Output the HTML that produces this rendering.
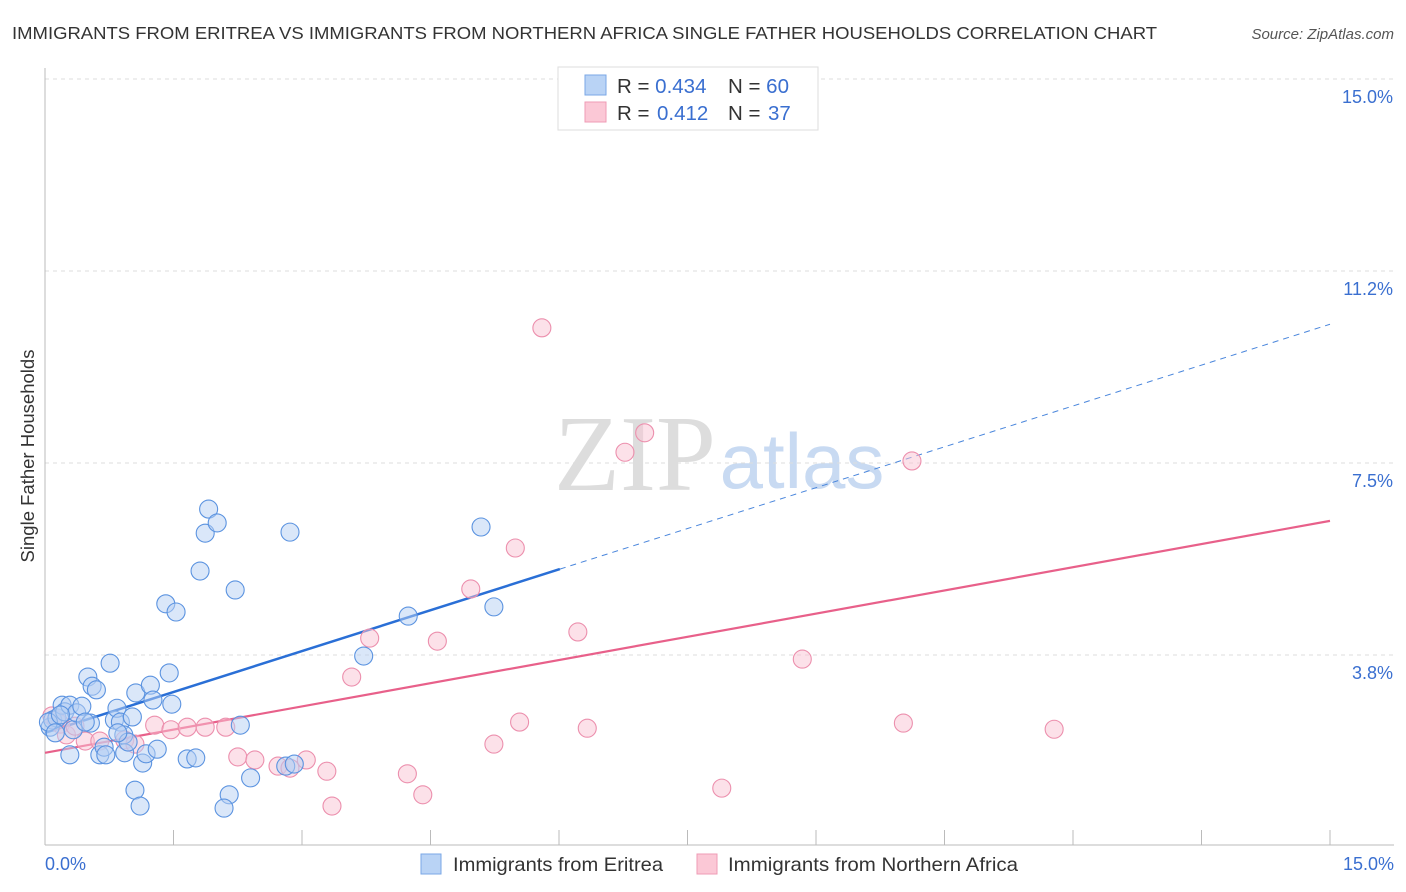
<!DOCTYPE html>
<html><head><meta charset="utf-8"><style>
body{margin:0;background:#fff;font-family:"Liberation Sans",sans-serif;}
svg{display:block}
</style></head><body>
<svg id="chart" width="1406" height="892" viewBox="0 0 1406 892" xmlns="http://www.w3.org/2000/svg" font-family="Liberation Sans, sans-serif">
<text x="12" y="39" font-size="17.5" fill="#333" textLength="1145" lengthAdjust="spacingAndGlyphs">IMMIGRANTS FROM ERITREA VS IMMIGRANTS FROM NORTHERN AFRICA SINGLE FATHER HOUSEHOLDS CORRELATION CHART</text>
<text x="1394" y="39" font-size="15" fill="#555" font-style="italic" text-anchor="end">Source: ZipAtlas.com</text>
<text transform="translate(34,456) rotate(-90)" font-size="18.5" fill="#333" text-anchor="middle">Single Father Households</text>
<g id="watermark">
<text x="635" y="490" font-size="108" fill="#ddd" font-family="Liberation Serif, serif" text-anchor="middle">ZIP</text>
<text x="802" y="488" font-size="78" fill="#c8daf2" text-anchor="middle">atlas</text>
</g>
<g id="grid"></g>
<g id="axes"></g>
<g id="lines"></g>
<g id="points"></g>
<g>
<rect x="558" y="67" width="260" height="63" fill="#fff" stroke="#ddd"/>
<rect x="585" y="75" width="21" height="20" fill="#b9d3f5" stroke="#7aa7e6"/>
<rect x="585" y="102" width="21" height="20" fill="#fbc8d6" stroke="#ef9bb5"/>
<text x="617" y="93" font-size="20.5" fill="#333">R = <tspan fill="#3a6fd0">0.434</tspan><tspan x="728">N = </tspan><tspan fill="#3a6fd0">60</tspan></text>
<text x="617" y="120" font-size="20.5" fill="#333">R = <tspan fill="#3a6fd0" x="657">0.412</tspan><tspan x="728">N = </tspan><tspan fill="#3a6fd0" x="768">37</tspan></text>
</g>
<g>
<rect x="421" y="854" width="20" height="20" fill="#b9d3f5" stroke="#7aa7e6"/>
<text x="453" y="871" font-size="19.5" fill="#333" textLength="210" lengthAdjust="spacingAndGlyphs">Immigrants from Eritrea</text>
<rect x="697" y="854" width="20" height="20" fill="#fbc8d6" stroke="#ef9bb5"/>
<text x="728" y="871" font-size="19.5" fill="#333" textLength="290" lengthAdjust="spacingAndGlyphs">Immigrants from Northern Africa</text>
</g>
</svg>
<script>
const yTicks=[3.75,7.5,11.25,15];
const yTickLabels=["3.8%","7.5%","11.2%","15.0%"];
const xTickLabels=["0.0%","15.0%"];
const eritreaX=[.06,.09,.14,.20,.23,.29,.33,.37,.43,.29,.50,.55,.60,.53,.64,.69,.71,.76,.81,.84,.88,.92,.93,.97,1.02,1.06,1.05,1.11,1.14,1.18,1.23,1.26,1.31,1.41,1.45,1.48,1.53,1.66,1.76,1.81,1.87,1.91,2.01,2.15,2.22,2.09,2.28,2.40,2.81,2.86,2.91,3.72,4.24,5.09,5.24,.04,.12,.18,.47,.85];
const eritreaY=[2.34,2.48,2.52,2.77,2.64,2.77,2.29,2.62,2.75,1.80,3.32,3.14,3.07,2.42,1.80,1.95,1.80,3.59,2.48,2.71,2.44,2.19,1.84,2.05,2.54,3.01,1.11,.80,1.64,1.82,3.16,2.87,1.91,4.75,3.40,2.79,4.59,1.72,1.74,5.39,6.13,6.60,6.33,1.02,5.02,.76,2.38,1.35,1.58,6.15,1.62,3.73,4.51,6.25,4.69,2.44,2.23,2.58,2.44,2.23];
const nafX=[.08,.13,.18,.25,.35,.47,.64,.93,1.05,1.28,1.47,1.66,1.87,2.11,2.25,2.45,2.72,2.86,3.05,3.29,3.35,3.58,3.79,4.23,4.41,4.58,4.97,5.24,5.49,5.54,5.80,6.22,6.33,6.77,7.00,7.90,8.84,10.02,10.12,11.78];
const nafY=[2.56,2.48,2.40,2.19,2.36,2.07,2.07,2.09,2.01,2.38,2.29,2.34,2.34,2.34,1.76,1.70,1.58,1.54,1.70,1.48,.80,3.32,4.08,1.43,1.02,4.02,5.04,2.01,5.84,2.44,10.14,4.20,2.32,7.71,8.09,1.15,3.67,2.42,7.54,2.30];
const eritreaTrend=[2.23,10.21];
const nafTrend=[1.84,6.37];
const eritreaSolidEnd=6.01;
const NS="http://www.w3.org/2000/svg";
const X=v=>45+v/15*1285;
const Y=v=>847-v/15*768;
function mk(t,a,p){const e=document.createElementNS(NS,t);for(const k in a)e.setAttribute(k,a[k]);p.appendChild(e);return e;}
const grid=document.getElementById('grid'),axes=document.getElementById('axes'),lines=document.getElementById('lines'),pts=document.getElementById('points');
yTicks.forEach((t,i)=>{
 const l=mk('line',{x1:45,x2:1394,y1:Y(t),y2:Y(t),stroke:'#ddd','stroke-dasharray':'4,4'},grid);
 
 
 const tx=mk('text',{x:1393,y:Y(t)+24,'font-size':18,fill:'#3a6fd0','text-anchor':'end'},axes);
 tx.textContent=yTickLabels[i];
 
 
});
const ax=mk('line',{x1:45,x2:1394,y1:845,y2:845,stroke:'#bbb'},axes);


const ay=mk('line',{x1:45,x2:45,y1:68,y2:845,stroke:'#bbb'},axes);


for(let i=0;i<=10;i++){const v=i*1.5;const tk=mk('line',{x1:X(v),x2:X(v),y1:830,y2:845,stroke:'#bbb'},axes);
 
 }
[[0,'start',45],[15,'end',1394]].forEach((d,i)=>{const t=mk('text',{x:d[2],y:870,'font-size':18,fill:'#3a6fd0','text-anchor':d[1]},axes);t.textContent=xTickLabels[i];
 
 });
function pointsFor(xs,ys,fill,stroke,name){xs.forEach((x,i)=>{const c=mk('circle',{cx:X(x),cy:Y(ys[i]),r:9,fill:fill,'fill-opacity':0.5,stroke:stroke,'stroke-width':1.1},pts);
 
 });}
pointsFor(nafX,nafY,'#f9c3d3','#ec8fad','northern-africa-point');
pointsFor(eritreaX,eritreaY,'#b5cff3','#5b93e0','eritrea-point');
const ty=x=>eritreaTrend[0]+(eritreaTrend[1]-eritreaTrend[0])*x/15;
const l1=mk('line',{x1:X(0),y1:Y(ty(0)),x2:X(eritreaSolidEnd),y2:Y(ty(eritreaSolidEnd)),stroke:'#2a6fd6','stroke-width':2.5},lines);


const l2=mk('line',{x1:X(eritreaSolidEnd),y1:Y(ty(eritreaSolidEnd)),x2:X(15),y2:Y(ty(15)),stroke:'#4a86dc','stroke-width':1,'stroke-dasharray':'6,5'},lines);


const l3=mk('line',{x1:X(0),y1:Y(nafTrend[0]),x2:X(15),y2:Y(nafTrend[1]),stroke:'#e8608a','stroke-width':2.2},lines);


</script>
</body></html>
